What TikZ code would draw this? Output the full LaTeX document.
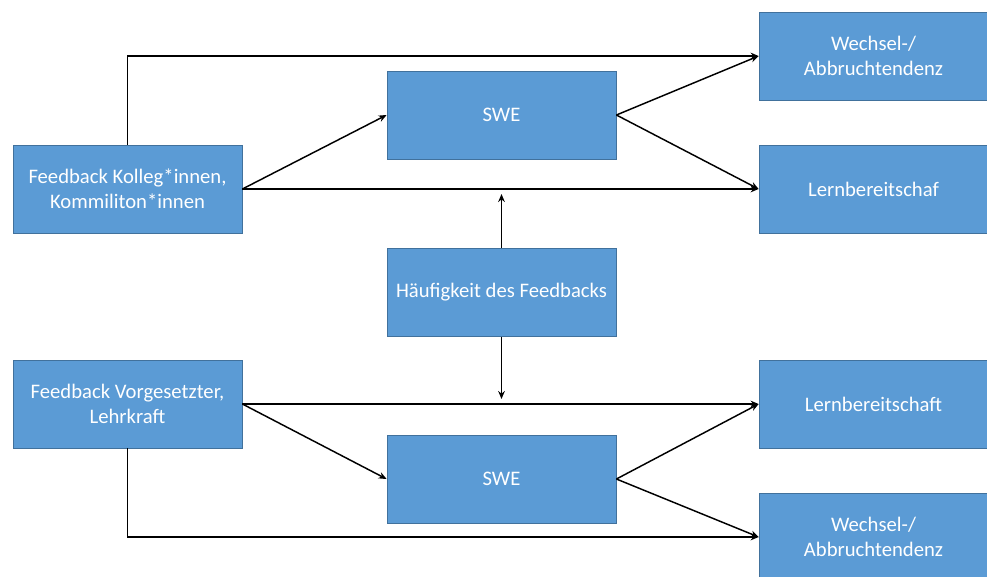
\documentclass[tikz,border=0pt]{standalone}
\usepackage{fontspec}
\setmainfont{Carlito}
\usetikzlibrary{arrows.meta}

\definecolor{boxblue}{HTML}{5B9BD5}
\definecolor{boxedge}{HTML}{41719C}

\tikzset{
  box/.style={draw=boxedge, line width=0.6pt, fill=boxblue, text=white,
    minimum width=171.75pt, minimum height=66pt, align=center, inner sep=2pt,
    font=\fontsize{15.5}{18.5}\selectfont},
  link/.style={draw=black, line width=1.1pt}
}

\begin{document}
\begin{tikzpicture}[x=0.75pt, y=-0.75pt, >={Stealth[length=6pt,width=5pt]}]
    \useasboundingbox (0,0) rectangle (987,576);

    % boxes
    \node[box] (fk) at (127.5,189) {Feedback Kolleg*innen,\\Kommiliton*innen};
    \node[box] (swe1) at (501.5,115) {SWE};
    \node[box] (w1) at (873.5,56) {Wechsel-/\\Abbruchtendenz};
    \node[box] (lern1) at (873.5,189) {Lernbereitschaf};
    \node[box] (haeuf) at (501.5,292.5) {Häufigkeit des Feedbacks};
    \node[box] (fv) at (127.5,404) {Feedback Vorgesetzter,\\Lehrkraft};
    \node[box] (lern2) at (873.5,404) {Lernbereitschaft};
    \node[box] (swe2) at (501.5,479) {SWE};
    \node[box] (w2) at (873.5,537) {Wechsel-/\\Abbruchtendenz};

    \coordinate (up) at (501.5,194);
    \coordinate (down) at (501.5,399);

    % upper paths
    \draw[link,->] (fk.north) |- (w1.west);
    \draw[link,->] (fk.east) -- (swe1.west);
    \draw[link,->] (fk.east) -- (lern1.west);
    \draw[link,->] (swe1.east) -- (w1.west);
    \draw[link,->] (swe1.east) -- (lern1.west);

    % moderator
    \draw[link,->] (haeuf.north) -- (up);
    \draw[link,->] (haeuf.south) -- (down);

    % lower paths
    \draw[link,->] (fv.east) -- (lern2.west);
    \draw[link,->] (fv.east) -- (swe2.west);
    \draw[link,->] (fv.south) |- (w2.west);
    \draw[link,->] (swe2.east) -- (lern2.west);
    \draw[link,->] (swe2.east) -- (w2.west);
\end{tikzpicture}
\end{document}
